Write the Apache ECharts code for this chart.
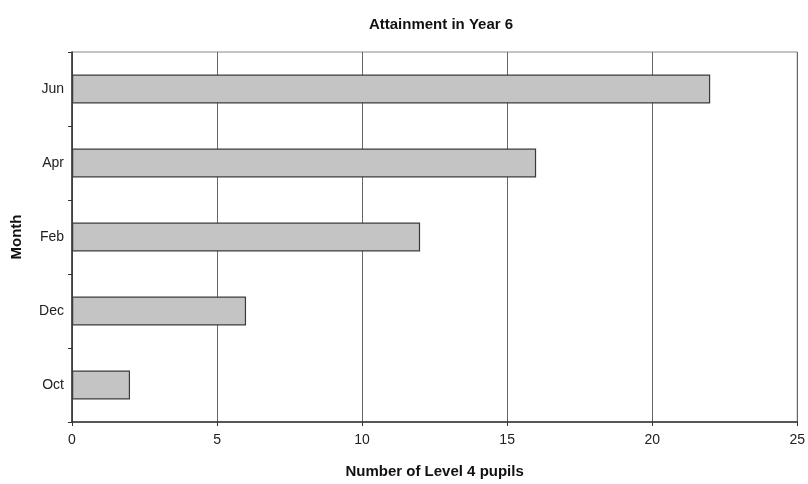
<!DOCTYPE html>
<html>
<head>
<meta charset="utf-8">
<script src="https://cdn.jsdelivr.net/npm/echarts@6/dist/echarts.min.js"></script>
<style>
html, body { margin: 0; padding: 0; background: #fff; }
#chart { width: 808px; height: 484px; }
</style>
</head>
<body>
<div id="chart"></div>
<script>
// Level 4 attainment counts by month, Year 6
const months = ['Oct', 'Dec', 'Feb', 'Apr', 'Jun'];
const pupils = [2, 6, 12, 16, 22];
const xTicks = [0, 5, 10, 15, 20, 25];

const chart = echarts.init(document.getElementById('chart'), null, { renderer: 'canvas' });
const font = 'Liberation Sans, Arial, sans-serif';

chart.setOption({
  backgroundColor: '#ffffff',
  animation: false,
  title: {
    text: 'Attainment in Year 6',
    left: 436, top: 12, textAlign: 'center',
    textStyle: { fontFamily: font, fontSize: 15, fontWeight: 'bold', color: '#111' }
  },
  grid: { left: 72, right: 10, top: 52, bottom: 59, show: true, borderColor: '#888', borderWidth: 1 },
  xAxis: {
    type: 'value',
    min: xTicks[0], max: xTicks[xTicks.length - 1], interval: 5,
    name: 'Number of Level 4 pupils',
    nameLocation: 'middle', nameGap: 42,
    nameTextStyle: { fontFamily: font, fontSize: 15, fontWeight: 'bold', color: '#111' },
    axisLine: { show: true, lineStyle: { color: '#333', width: 1.5 } },
    axisTick: { show: true, length: 4, lineStyle: { color: '#333' } },
    axisLabel: { fontFamily: font, fontSize: 14, color: '#222', margin: 11 },
    splitLine: { show: true, lineStyle: { color: '#666', width: 1 } }
  },
  yAxis: {
    type: 'category',
    data: months,
    name: 'Month',
    nameLocation: 'middle', nameGap: 48, nameRotate: 90,
    nameTextStyle: { fontFamily: font, fontSize: 15, fontWeight: 'bold', color: '#111' },
    axisLine: { show: true, lineStyle: { color: '#333', width: 1.5 } },
    axisTick: { show: true, length: 4, lineStyle: { color: '#333' } },
    axisLabel: { fontFamily: font, fontSize: 14, color: '#222', margin: 8 },
    splitLine: { show: false }
  },
  series: [{
    type: 'bar',
    data: pupils,
    barCategoryGap: '61%',
    itemStyle: { color: '#c4c4c4', borderColor: '#3a3a3a', borderWidth: 1.2 },
    label: { show: false }
  }]
});
</script>
</body>
</html>
